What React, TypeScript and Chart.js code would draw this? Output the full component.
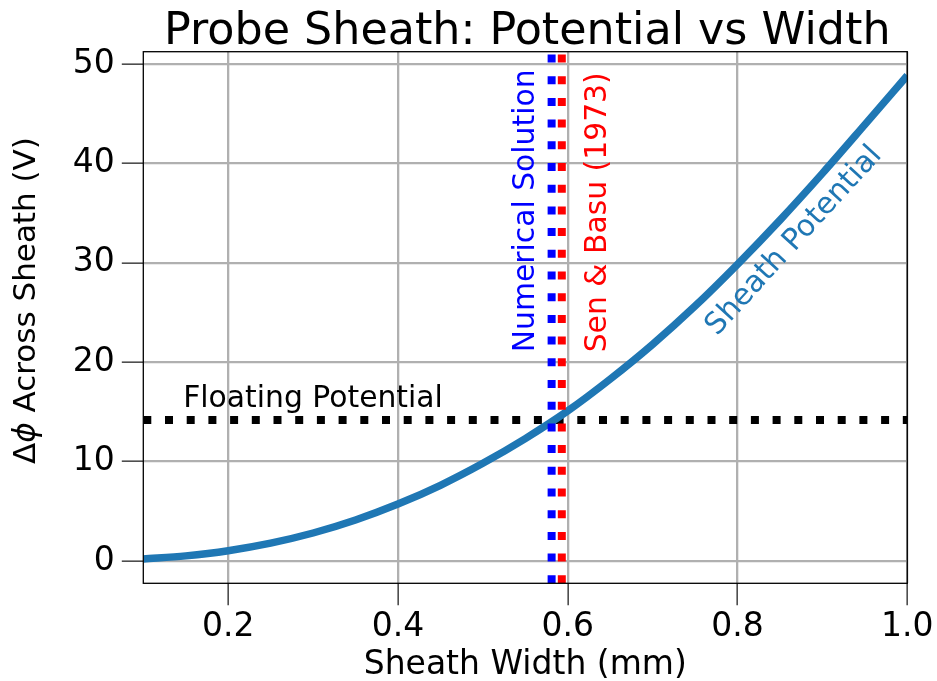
import React, { useEffect, useRef } from "react";
import { Chart, registerables } from "chart.js";

Chart.register(...registerables);

// ---- data ----
const SHEATH_WIDTH_MM = [0.1, 0.15, 0.2, 0.25, 0.3, 0.35, 0.4, 0.45, 0.5, 0.55, 0.6, 0.65, 0.7, 0.75, 0.8, 0.85, 0.9, 0.95, 1.0];
const SHEATH_POTENTIAL_V = [0.2, 0.52, 1.04, 1.8, 2.82, 4.13, 5.73, 7.62, 9.83, 12.32, 15.1, 18.3, 21.8, 25.65, 29.85, 34.3, 39.0, 43.9, 48.85];
const FLOATING_POTENTIAL_V = 14.2;
const NUMERICAL_WIDTH_MM = 0.581;
const SEN_BASU_WIDTH_MM = 0.593;

const X_RANGE = [0.1, 1.0];
const Y_RANGE = [-2.24, 51.24];
const X_TICKS = [0.2, 0.4, 0.6, 0.8, 1.0];
const Y_TICKS = [0, 10, 20, 30, 40, 50];

const TITLE = "Probe Sheath: Potential vs Width";
const X_LABEL = "Sheath Width (mm)";
const Y_LABEL_MATH = ["Δ", "ϕ"];
const Y_LABEL_REST = " Across Sheath (V)";
const FLOAT_LABEL = "Floating Potential";
const NUM_LABEL = "Numerical Solution";
const SEN_LABEL = "Sen & Basu (1973)";
const CURVE_LABEL = "Sheath Potential";

// label anchors in data coordinates
const FLOAT_LABEL_AT = [0.147, 15.5];
const NUM_LABEL_AT = [0.5608, 21.0];
const SEN_LABEL_AT = [0.6455, 21.0];
const CURVE_LABEL_AT = [0.8667, 32.2];
const CURVE_LABEL_ANGLE = -47.5;

const FONT = '"DejaVu Sans", "Liberation Sans", sans-serif';
const BLUE = "#1f77b4";
const DOT = [8, 13.7];

const textPlugin = {
  id: "textPlugin",
  afterDatasetsDraw(chart: any) {
    const { ctx, chartArea } = chart;
    const { left, right, top, bottom } = chartArea;
    ctx.save();
    ctx.strokeStyle = "#000";
    ctx.lineWidth = 1.3;
    ctx.strokeRect(left, top, right - left, bottom - top);
    ctx.restore();
  },
  afterDraw(chart: any) {
    const { ctx, chartArea, scales } = chart;
    const xs = scales.x;
    const ys = scales.y;
    const cx = (chartArea.left + chartArea.right) / 2;
    ctx.save();
    ctx.fillStyle = "#000";
    ctx.textBaseline = "alphabetic";

    // title
    ctx.font = `44.4px ${FONT}`;
    ctx.textAlign = "center";
    ctx.fillText(TITLE, cx + 2, 44);

    // x label
    ctx.font = `33px ${FONT}`;
    ctx.fillText(X_LABEL, cx, 674);

    // y label (rotated)
    ctx.save();
    const cy = (chartArea.top + chartArea.bottom) / 2 - 17;
    ctx.translate(35, cy);
    ctx.rotate(-Math.PI / 2);
    ctx.textAlign = "left";
    const fN = `31px ${FONT}`;
    const fI = `italic 31px ${FONT}`;
    ctx.font = fN;
    const wD = ctx.measureText(Y_LABEL_MATH[0]).width;
    const wR = ctx.measureText(Y_LABEL_REST).width;
    ctx.font = fI;
    const wP = ctx.measureText(Y_LABEL_MATH[1]).width;
    let x0 = -(wD + wP + wR) / 2;
    ctx.font = fN;
    ctx.fillText(Y_LABEL_MATH[0], x0, 0);
    x0 += wD;
    ctx.font = fI;
    ctx.fillText(Y_LABEL_MATH[1], x0, 0);
    x0 += wP;
    ctx.font = fN;
    ctx.fillText(Y_LABEL_REST, x0, 0);
    ctx.restore();

    // annotations
    ctx.font = `29.8px ${FONT}`;
    ctx.textAlign = "left";
    ctx.fillStyle = "#000";
    ctx.fillText(FLOAT_LABEL, xs.getPixelForValue(FLOAT_LABEL_AT[0]), ys.getPixelForValue(FLOAT_LABEL_AT[1]));

    const vtext = (txt: string, at: number[], color: string) => {
      ctx.save();
      ctx.translate(xs.getPixelForValue(at[0]), ys.getPixelForValue(at[1]));
      ctx.rotate(-Math.PI / 2);
      ctx.fillStyle = color;
      ctx.textAlign = "left";
      ctx.textBaseline = "alphabetic";
      ctx.fillText(txt, 0, 0);
      ctx.restore();
    };
    vtext(NUM_LABEL, NUM_LABEL_AT, "blue");
    vtext(SEN_LABEL, SEN_LABEL_AT, "red");

    ctx.save();
    ctx.translate(xs.getPixelForValue(CURVE_LABEL_AT[0]), ys.getPixelForValue(CURVE_LABEL_AT[1]));
    ctx.rotate((CURVE_LABEL_ANGLE * Math.PI) / 180);
    ctx.fillStyle = BLUE;
    ctx.textAlign = "center";
    ctx.textBaseline = "middle";
    ctx.fillText(CURVE_LABEL, 0, 0);
    ctx.restore();

    ctx.restore();
  },
};

export default function App() {
  const ref = useRef<HTMLCanvasElement | null>(null);
  useEffect(() => {
    if (!ref.current) return;
    const curve = SHEATH_WIDTH_MM.map((x, i) => ({ x, y: SHEATH_POTENTIAL_V[i] }));
    const vline = (x: number) => [
      { x, y: Y_RANGE[0] },
      { x, y: Y_RANGE[1] },
    ];
    const chart = new Chart(ref.current, {
      type: "scatter",
      data: {
        datasets: [
          {
            data: vline(NUMERICAL_WIDTH_MM),
            showLine: true,
            borderColor: "blue",
            borderWidth: 8,
            borderDash: DOT,
            borderCapStyle: "butt",
            pointRadius: 0,
            clip: 0,
            order: 0,
          },
          {
            data: vline(SEN_BASU_WIDTH_MM),
            showLine: true,
            borderColor: "red",
            borderWidth: 8,
            borderDash: DOT,
            borderCapStyle: "butt",
            pointRadius: 0,
            clip: 0,
            order: 0,
          },
          {
            data: curve,
            showLine: true,
            borderColor: BLUE,
            borderWidth: 7.5,
            cubicInterpolationMode: "monotone",
            pointRadius: 0,
            clip: 0,
            order: 1,
          },
          {
            data: [
              { x: X_RANGE[0], y: FLOATING_POTENTIAL_V },
              { x: X_RANGE[1], y: FLOATING_POTENTIAL_V },
            ],
            showLine: true,
            borderColor: "#000",
            borderWidth: 8,
            borderDash: DOT,
            borderCapStyle: "butt",
            pointRadius: 0,
            clip: 0,
            order: 2,
          },
        ] as any,
      },
      options: {
        animation: false,
        responsive: false,
        devicePixelRatio: 1,
        events: [],
        layout: { padding: { left: 0, right: 29.7, top: 51.7, bottom: 0 } },
        plugins: { legend: { display: false }, tooltip: { enabled: false }, title: { display: false } },
        scales: {
          x: {
            type: "linear",
            min: X_RANGE[0],
            max: X_RANGE[1],
            afterBuildTicks: (s: any) => {
              s.ticks = X_TICKS.map((v) => ({ value: v }));
            },
            afterFit: (s: any) => {
              s.height = 97.7;
            },
            grid: { color: "#b0b0b0", lineWidth: 2.3, tickColor: "#222", tickWidth: 1.3, tickLength: 22 },
            border: { display: false },
            ticks: {
              color: "#000",
              font: { family: FONT, size: 33 },
              padding: 2,
              maxRotation: 0,
              autoSkip: false,
              callback: (v: any) => Number(v).toFixed(1),
            },
          },
          y: {
            type: "linear",
            min: Y_RANGE[0],
            max: Y_RANGE[1],
            afterBuildTicks: (s: any) => {
              s.ticks = Y_TICKS.map((v) => ({ value: v }));
            },
            afterFit: (s: any) => {
              s.width = 143.3;
            },
            grid: { color: "#b0b0b0", lineWidth: 2.3, tickColor: "#222", tickWidth: 1.3, tickLength: 21.5 },
            border: { display: false },
            ticks: {
              color: "#000",
              font: { family: FONT, size: 33 },
              padding: 7,
              autoSkip: false,
              callback: (v: any) => String(v),
            },
          },
        },
      } as any,
      plugins: [textPlugin],
    });
    return () => chart.destroy();
  }, []);
  return (
    <div style={{ position: "absolute", left: 0, top: 0, width: 937, height: 681, background: "#fff" }}>
      <canvas ref={ref} width={937} height={681} style={{ display: "block", width: 937, height: 681 }} />
    </div>
  );
}
